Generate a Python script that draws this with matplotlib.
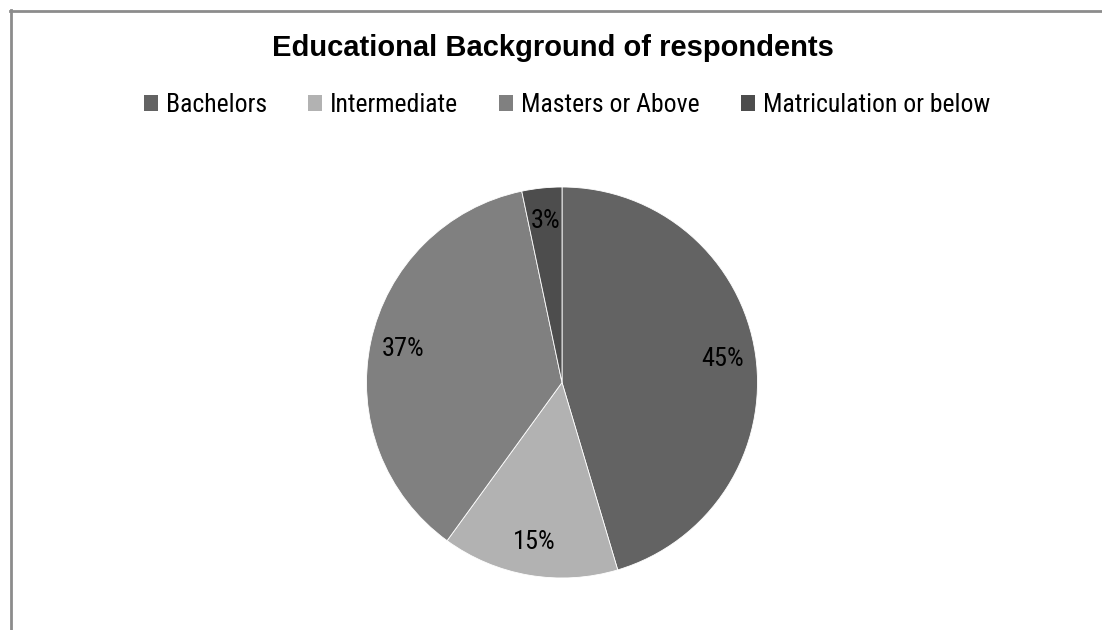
import matplotlib.pyplot as plt
from matplotlib.patches import Patch
from matplotlib.lines import Line2D

# values (percent of respondents)
categories = ["Bachelors", "Intermediate", "Masters or Above", "Matriculation or below"]
shares = [45.4, 14.6, 36.7, 3.3]
colors = ["#636363", "#b2b2b2", "#808080", "#4d4d4d"]
title = "Educational Background of respondents"

narrow = ["Liberation Sans Narrow", "Roboto Condensed", "Liberation Sans"]

fig = plt.figure(figsize=(11.02, 6.30), dpi=100)
fig.patch.set_facecolor("white")

# chart border (only top and left edges are visible in the crop)
fig.add_artist(Line2D([10 / 1102, 1], [1 - 10.5 / 630] * 2, color="#8c8c8c", lw=2,
                      transform=fig.transFigure))
fig.add_artist(Line2D([10.5 / 1102] * 2, [0, 1 - 10 / 630], color="#8c8c8c", lw=2,
                      transform=fig.transFigure))

cx, cy, r = 562, 382.5, 195.5
ax = fig.add_axes([(cx - r) / 1102, (630 - cy - r) / 630, 2 * r / 1102, 2 * r / 630])
wedges, _, autotexts = ax.pie(
    shares,
    colors=colors,
    startangle=90,
    counterclock=False,
    autopct="%.0f%%",
    pctdistance=0.83,
    wedgeprops={"edgecolor": "white", "linewidth": 0.6},
    textprops={"family": narrow, "fontstretch": "condensed", "fontsize": 19,
               "color": "black"},
)
ax.set_xlim(-1, 1)
ax.set_ylim(-1, 1)
ax.set_aspect("equal")

fig.text(553 / 1102, 1 - 48 / 630, title, ha="center", va="center",
         family="Liberation Sans", fontweight="bold", fontsize=21)

handles = [Patch(facecolor=c, edgecolor="none") for c in colors]
fig.legend(
    handles,
    categories,
    loc="center",
    bbox_to_anchor=(567 / 1102, 1 - 105 / 630),
    ncol=4,
    frameon=False,
    prop={"family": narrow, "stretch": "condensed", "size": 18.5},
    handlelength=0.55,
    handleheight=0.55,
    handletextpad=0.3,
    columnspacing=1.6,
)

plt.savefig("out.png", dpi=100, facecolor="white")
